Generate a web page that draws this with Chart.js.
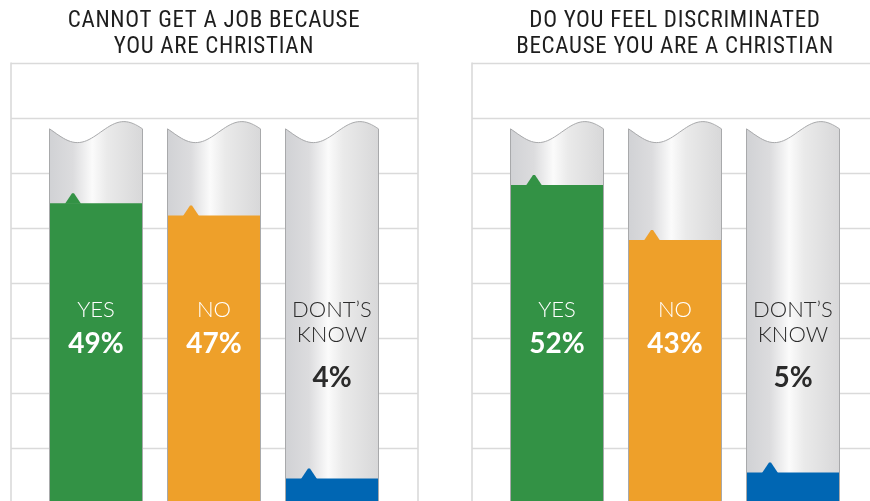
<!DOCTYPE html>
<html>
<head>
<meta charset="utf-8">
<script src="https://cdn.jsdelivr.net/npm/chart.js@4/dist/chart.umd.min.js"></script>
<style>
  html, body { margin: 0; padding: 0; background: #fff; }
  body { width: 870px; height: 501px; overflow: hidden; position: relative; }
  .panel { position: absolute; top: 0; width: 461px; height: 505px; }
  #panelLeft { left: 0; }
  #panelRight { left: 461px; }
</style>
</head>
<body>
<div class="panel" id="panelLeft"><canvas id="jobChart" width="461" height="505"></canvas></div>
<div class="panel" id="panelRight"><canvas id="discriminatedChart" width="461" height="505"></canvas></div>
<script>
// survey answers
var answers = [['YES'], ['NO'], ['DONT\u2019S', 'KNOW']];
var jobTitle = ['CANNOT GET A JOB BECAUSE', 'YOU ARE CHRISTIAN'];
var jobValues = [49, 47, 4];
var discriminatedTitle = ['DO YOU FEEL DISCRIMINATED', 'BECAUSE YOU ARE A CHRISTIAN'];
var discriminatedValues = [52, 43, 5];

var fillColours = ['#339245', '#eea02a', '#0066b3'];
var textColours = ['#ffffff', '#ffffff', '#2b2b2b'];

// light grid + frame spanning a bit wider than the bars
var framePlugin = {
    id: 'frame',
    beforeDraw: function (chart) {
        var ctx = chart.ctx;
        var area = chart.chartArea;
        var y = chart.scales.y;
        var left = area.left - 26;
        var right = area.right + 27;
        ctx.save();
        ctx.strokeStyle = '#dadada';
        ctx.lineWidth = 1.6;
        y.ticks.forEach(function (t) {
            var py = Math.round(y.getPixelForValue(t.value)) + 0.5;
            ctx.beginPath();
            ctx.moveTo(left, py);
            ctx.lineTo(right, py);
            ctx.stroke();
        });
        ctx.beginPath();
        ctx.moveTo(left, area.top);
        ctx.lineTo(left, area.bottom + 5);
        ctx.moveTo(right, area.top);
        ctx.lineTo(right, area.bottom + 5);
        ctx.stroke();
        ctx.restore();
        // spaced-out capitals for the title
        ctx.letterSpacing = '0.7px';
    }
};

// wavy top of the grey tube behind each bar
function tubePath(ctx, x0, w, top, bottom) {
    ctx.beginPath();
    ctx.moveTo(x0, bottom);
    for (var i = 0; i <= 40; i++) {
        var t = i / 40;
        ctx.lineTo(x0 + t * w, top + 10.5 * Math.cos(2 * Math.PI * (t - 0.3)));
    }
    ctx.lineTo(x0 + w, bottom);
}

var tubePlugin = {
    id: 'tubes',
    beforeDatasetsDraw: function (chart) {
        var ctx = chart.ctx;
        var area = chart.chartArea;
        var top = area.top + 69.5;
        ctx.letterSpacing = '0px';
        chart.getDatasetMeta(0).data.forEach(function (bar) {
            var x0 = bar.x - bar.width / 2;
            var w = bar.width;
            var g = ctx.createLinearGradient(x0, 0, x0 + w, 0);
            g.addColorStop(0, '#d1d2d5');
            g.addColorStop(0.25, '#dcdcde');
            g.addColorStop(0.46, '#fbfbfb');
            g.addColorStop(0.62, '#eaeaea');
            g.addColorStop(1, '#d8d8d9');
            ctx.save();
            tubePath(ctx, x0, w, top, area.bottom + 5);
            ctx.closePath();
            ctx.fillStyle = g;
            ctx.fill();
            ctx.restore();
        });
    },
    afterDatasetsDraw: function (chart) {
        var ctx = chart.ctx;
        var area = chart.chartArea;
        var top = area.top + 69.5;
        chart.getDatasetMeta(0).data.forEach(function (bar, i) {
            var x0 = bar.x - bar.width / 2;
            // little pointer on the fill level
            ctx.save();
            ctx.fillStyle = fillColours[i];
            ctx.beginPath();
            ctx.moveTo(x0 + 15, bar.y + 0.5);
            ctx.lineTo(x0 + 22, bar.y - 10);
            ctx.lineTo(x0 + 24, bar.y - 10);
            ctx.lineTo(x0 + 31, bar.y + 0.5);
            ctx.closePath();
            ctx.fill();
            ctx.strokeStyle = '#a8a9ab';
            ctx.lineWidth = 1;
            tubePath(ctx, x0 - 0.5, bar.width + 1, top, area.bottom + 5);
            ctx.stroke();
            ctx.restore();
        });
    }
};

// answer name and percentage written on each tube
var labelPlugin = {
    id: 'answerLabels',
    afterDatasetsDraw: function (chart) {
        var ctx = chart.ctx;
        var area = chart.chartArea;
        var values = chart.data.datasets[0].data;
        chart.getDatasetMeta(0).data.forEach(function (bar, i) {
            var lines = answers[i];
            var y0 = area.top + 247;
            ctx.save();
            ctx.fillStyle = textColours[i];
            ctx.textAlign = 'center';
            ctx.textBaseline = 'middle';
            ctx.font = '300 22px Lato, "Noto Sans", sans-serif';
            lines.forEach(function (line, j) {
                ctx.fillText(line, bar.x, y0 + j * 25);
            });
            ctx.font = 'bold 28px Lato, "Noto Sans", sans-serif';
            ctx.fillText(values[i] + '%', bar.x, y0 + 34 + (lines.length - 1) * 34);
            ctx.restore();
        });
    }
};

function createPanel(canvasId, title, values) {
    var ctx = document.getElementById(canvasId).getContext('2d');
    return new Chart(ctx, {
        type: 'bar',
        data: {
            labels: answers.map(function (a) { return a.join(' '); }),
            datasets: [
                {
                    data: values,
                    backgroundColor: fillColours,
                    borderWidth: 0,
                    barPercentage: 1,
                    categoryPercentage: 92 / 118
                }
            ]
        },
        options: {
            responsive: false,
            animation: false,
            layout: {
                padding: { left: 37, right: 70, top: 0, bottom: 2 }
            },
            plugins: {
                legend: { display: false },
                tooltip: { enabled: false },
                title: {
                    display: true,
                    text: title,
                    color: '#1e1e1e',
                    font: { family: '"Liberation Sans Narrow", "Roboto Condensed", Roboto, sans-serif', size: 23, weight: 'normal', lineHeight: 1.1 },
                    padding: { top: 9, bottom: 3 }
                }
            },
            scales: {
                x: { display: false },
                y: {
                    display: false,
                    min: 0,
                    max: 72,
                    ticks: { stepSize: 9 }
                }
            }
        },
        plugins: [framePlugin, tubePlugin, labelPlugin]
    });
}

document.addEventListener('DOMContentLoaded', function () {
    createPanel('jobChart', jobTitle, jobValues);
    createPanel('discriminatedChart', discriminatedTitle, discriminatedValues);
});
</script>
</body>
</html>
